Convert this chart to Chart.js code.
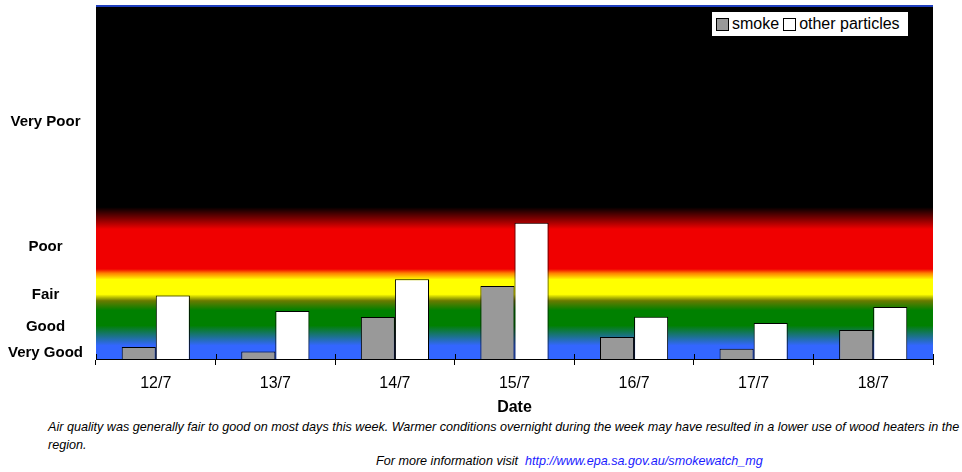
<!DOCTYPE html>
<html>
<head>
<meta charset="utf-8">
<script src="https://cdn.jsdelivr.net/npm/chart.js@4.4.1/dist/chart.umd.min.js"></script>
<style>
    body { margin: 0; background: #fff; font-family: "Liberation Sans", Arial, sans-serif; }
    #wrap { position: relative; width: 962px; height: 420px; }
    #legend {
        position: absolute; left: 712px; top: 12px; height: 24px; padding: 0 4px;
        background: #fff; display: flex; align-items: center; font-size: 16px; color: #000;
    }
    #legend .item { display: flex; align-items: center; margin-right: 4px; }
    #legend .box { width: 11px; height: 11px; border: 1px solid #000; margin-right: 3px; }
    .note { position: absolute; font-style: italic; font-size: 12.6px; color: #000; white-space: nowrap; }
    .note a { color: #1a1aff; text-decoration: none; }
</style>
</head>
<body>
<div id="wrap">
    <canvas id="chart" width="962" height="420"></canvas>
    <div id="legend"></div>
</div>
<div class="note" style="left:48px; top:420px;">Air quality was generally fair to good on most days this week. Warmer conditions overnight during the week may have resulted in a lower use of wood heaters in the</div>
<div class="note" style="left:48px; top:438px;">region.</div>
<div class="note" style="left:376px; top:454px;">For more information visit&nbsp; <a>http://www.epa.sa.gov.au/smokewatch_mg</a></div>

<script>
// данные графика
const dates = ['12/7', '13/7', '14/7', '15/7', '16/7', '17/7', '18/7'];
const smoke = [3.4, 2.1, 11.9, 20.7, 6.2, 2.9, 8.2];
const otherParticles = [18.0, 13.6, 22.6, 38.6, 12.0, 10.2, 14.7];

// подписи категорий качества воздуха на оси Y
const bandLabels = ['Very Good', 'Good', 'Fair', 'Poor', 'Very Poor'];
const bandTicks = [1.7, 9.1, 18.2, 31.7, 67.1];

// цветовые полосы фона (значение по оси Y -> цвет)
const bandStops = [0, 3.8, 9.5, 13.8, 16.5, 18.3, 22.5, 24.3, 25.5, 36.8, 43.0, 100];
const bandColors = ['#3366ff', '#3366ff', '#008000', '#008000', '#6a7a00', '#ffff00', '#ffff00', '#ff8000', '#f00000', '#f00000', '#000000', '#000000'];

const bandBackground = {
    id: 'bandBackground',
    beforeDraw(chart) {
        const { ctx, chartArea: area, scales: { y } } = chart;
        const grad = ctx.createLinearGradient(0, area.bottom, 0, area.top);
        bandStops.forEach((v, i) => {
            const pos = (area.bottom - y.getPixelForValue(v)) / (area.bottom - area.top);
            grad.addColorStop(Math.min(1, Math.max(0, pos)), bandColors[i]);
        });
        ctx.save();
        ctx.fillStyle = grad;
        ctx.fillRect(area.left, area.top, area.right - area.left, area.bottom - area.top);
        // синяя линия сверху
        ctx.fillStyle = '#1f3fbf';
        ctx.fillRect(area.left, area.top - 1, area.right - area.left, 2);
        ctx.restore();
    },
    afterDraw(chart) {
        // засечки оси X немного заходят внутрь области графика
        const { ctx, chartArea: area, scales: { x } } = chart;
        ctx.save();
        ctx.strokeStyle = '#000';
        ctx.lineWidth = 1;
        ctx.beginPath();
        for (let i = 0; i <= dates.length; i++) {
            const px = Math.round(x.getPixelForValue(i - 0.5)) + 0.5;
            ctx.moveTo(px, area.bottom - 5);
            ctx.lineTo(px, area.bottom);
        }
        ctx.stroke();
        ctx.restore();
    }
};

const ctx = document.getElementById('chart').getContext('2d');
const chart = new Chart(ctx, {
    type: 'bar',
    data: {
        labels: dates,
        datasets: [{
            label: 'smoke',
            data: smoke,
            backgroundColor: '#999999',
            borderColor: '#000',
            borderWidth: 1
        }, {
            label: 'other particles',
            data: otherParticles,
            backgroundColor: '#ffffff',
            borderColor: '#000',
            borderWidth: 1
        }]
    },
    options: {
        responsive: false,
        animation: false,
        layout: { padding: { top: 6, right: 29, left: 0, bottom: 0 } },
        datasets: {
            bar: { categoryPercentage: 0.57, barPercentage: 1.0 }
        },
        plugins: {
            legend: { display: false },
            tooltip: { enabled: false }
        },
        scales: {
            x: {
                grid: { offset: true, drawOnChartArea: false, tickLength: 6, color: '#000' },
                border: { color: '#000', width: 1 },
                ticks: { color: '#000', font: { family: 'Liberation Sans', size: 16 }, padding: 9 },
                title: {
                    display: true,
                    text: 'Date',
                    color: '#000',
                    font: { family: 'Liberation Sans', size: 16, weight: 'bold' },
                    padding: { top: 0, bottom: 3 }
                },
                afterFit(scale) {
                    scale.height = 61;
                    scale.paddingLeft = 0;
                    scale.paddingRight = 0;
                }
            },
            y: {
                min: 0,
                max: 100,
                grid: { display: false },
                border: { display: false },
                afterBuildTicks(scale) {
                    scale.ticks = bandTicks.map(v => ({ value: v }));
                },
                ticks: {
                    color: '#000',
                    crossAlign: 'center',
                    autoSkip: false,
                    padding: 5,
                    font: { family: 'Liberation Sans', size: 15, weight: 'bold' },
                    callback: function (value, index) {
                        return bandLabels[index];
                    }
                },
                afterFit(scale) {
                    scale.width = 96;
                    scale.paddingTop = 0;
                    scale.paddingBottom = 0;
                }
            }
        }
    },
    plugins: [bandBackground]
});

// легенда внутри области графика
const legend = document.getElementById('legend');
chart.data.datasets.forEach(ds => {
    const item = document.createElement('div');
    item.className = 'item';
    item.innerHTML = `<span class="box" style="background:${ds.backgroundColor}"></span>${ds.label}`;
    legend.appendChild(item);
});
</script>
</body>
</html>
